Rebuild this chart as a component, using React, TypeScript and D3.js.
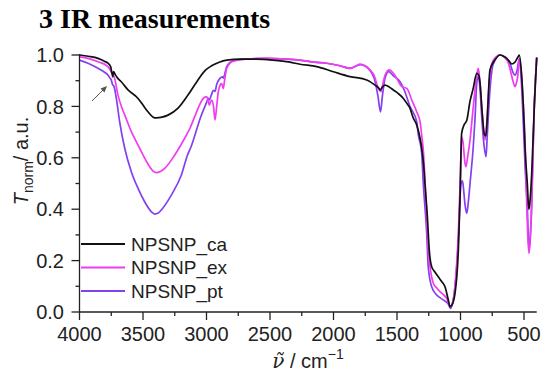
import React, { useEffect, useRef } from "react";
import * as d3 from "d3";

const width = 542,
  height = 376;

// [wavenumber, T_norm]
const caData: [number, number][] = [
  [4000, 1.0], [3930, 0.995], [3854, 0.987], [3800, 0.975], [3776, 0.968], [3755, 0.955],
  [3745, 0.93], [3738, 0.915], [3732, 0.935], [3720, 0.925], [3700, 0.91], [3671, 0.896],
  [3618, 0.864], [3539, 0.831], [3500, 0.805], [3461, 0.779], [3420, 0.758], [3395, 0.755],
  [3350, 0.758], [3303, 0.766], [3224, 0.793], [3146, 0.844], [3067, 0.903], [3010, 0.94],
  [2960, 0.958], [2900, 0.972], [2840, 0.98], [2736, 0.984], [2605, 0.984], [2476, 0.98],
  [2343, 0.972], [2264, 0.964], [2132, 0.955], [2001, 0.935], [1870, 0.916], [1738, 0.903],
  [1673, 0.883], [1645, 0.872], [1632, 0.864], [1615, 0.875], [1594, 0.883], [1560, 0.875],
  [1529, 0.864], [1490, 0.85], [1450, 0.831], [1420, 0.81], [1398, 0.793], [1372, 0.755],
  [1345, 0.728], [1320, 0.68], [1306, 0.64], [1290, 0.57], [1280, 0.5], [1261, 0.371],
  [1246, 0.241], [1227, 0.176], [1200, 0.155], [1175, 0.137], [1150, 0.12], [1122, 0.098],
  [1096, 0.047], [1083, 0.021], [1070, 0.025], [1043, 0.073], [1017, 0.241], [1004, 0.436],
  [991, 0.695], [970, 0.73], [951, 0.745], [925, 0.82], [900, 0.87], [872, 0.929],
  [855, 0.92], [846, 0.89], [830, 0.78], [812, 0.69], [800, 0.685], [790, 0.75],
  [768, 0.942], [728, 0.981], [689, 1.0], [660, 0.995], [636, 0.987], [610, 0.972],
  [597, 0.965], [571, 0.972], [550, 0.99], [537, 1.0], [520, 0.93], [505, 0.8],
  [490, 0.62], [474, 0.5], [462, 0.4], [455, 0.42], [439, 0.54], [419, 0.8], [400, 0.99],
];

const exData: [number, number][] = [
  [4000, 0.993], [3933, 0.987], [3854, 0.974], [3776, 0.955], [3750, 0.935], [3723, 0.909],
  [3697, 0.844], [3670, 0.8], [3644, 0.767], [3592, 0.702], [3550, 0.66], [3513, 0.624],
  [3447, 0.565], [3420, 0.548], [3395, 0.542], [3360, 0.548], [3329, 0.559], [3250, 0.611],
  [3172, 0.676], [3130, 0.715], [3093, 0.76], [3060, 0.8], [3025, 0.831], [3000, 0.838],
  [2990, 0.83], [2978, 0.805], [2970, 0.815], [2959, 0.825], [2945, 0.8], [2933, 0.747],
  [2922, 0.79], [2907, 0.857], [2890, 0.885], [2880, 0.889], [2868, 0.87], [2858, 0.9],
  [2841, 0.948], [2789, 0.977], [2683, 0.984], [2526, 0.987], [2368, 0.984], [2264, 0.98],
  [2150, 0.972], [2054, 0.968], [1949, 0.958], [1870, 0.948], [1820, 0.958], [1791, 0.965],
  [1750, 0.958], [1713, 0.942], [1680, 0.92], [1647, 0.87], [1626, 0.857], [1610, 0.89],
  [1594, 0.922], [1560, 0.942], [1530, 0.93], [1502, 0.909], [1463, 0.877], [1423, 0.87],
  [1384, 0.825], [1345, 0.779], [1318, 0.74], [1306, 0.689], [1293, 0.63], [1272, 0.436],
  [1254, 0.241], [1240, 0.176], [1214, 0.112], [1190, 0.095], [1162, 0.079], [1135, 0.068],
  [1109, 0.053], [1090, 0.03], [1080, 0.021], [1057, 0.047], [1040, 0.12], [1017, 0.306],
  [1000, 0.55], [991, 0.682], [980, 0.66], [965, 0.58], [957, 0.565], [945, 0.6],
  [925, 0.669], [905, 0.77], [886, 0.864], [872, 0.92], [860, 0.948], [850, 0.91],
  [833, 0.8], [820, 0.72], [807, 0.669], [795, 0.72], [780, 0.85], [768, 0.92],
  [742, 0.98], [689, 1.0], [650, 0.99], [620, 0.965], [602, 0.929], [585, 0.895],
  [571, 0.877], [560, 0.89], [550, 0.916], [537, 0.985], [525, 0.95], [505, 0.8],
  [492, 0.67], [480, 0.45], [471, 0.306], [461, 0.228], [450, 0.29], [445, 0.345],
  [430, 0.6], [419, 0.8], [400, 0.99],
];

const ptData: [number, number][] = [
  [4000, 0.98], [3933, 0.968], [3854, 0.948], [3800, 0.932], [3776, 0.922], [3760, 0.91],
  [3750, 0.903], [3740, 0.885], [3728, 0.877], [3710, 0.831], [3684, 0.741], [3644, 0.637],
  [3592, 0.546], [3539, 0.481], [3487, 0.429], [3434, 0.39], [3408, 0.381], [3380, 0.385],
  [3356, 0.397], [3277, 0.455], [3198, 0.533], [3150, 0.61], [3120, 0.645], [3045, 0.76],
  [3000, 0.815], [2986, 0.831], [2978, 0.825], [2965, 0.84], [2945, 0.862], [2933, 0.858],
  [2920, 0.885], [2894, 0.909], [2875, 0.915], [2868, 0.91], [2841, 0.955], [2789, 0.977],
  [2683, 0.984], [2526, 0.987], [2368, 0.984], [2264, 0.98], [2150, 0.972], [2054, 0.968],
  [1949, 0.958], [1870, 0.948], [1791, 0.962], [1713, 0.94], [1680, 0.91], [1650, 0.84],
  [1630, 0.779], [1615, 0.84], [1594, 0.91], [1565, 0.935], [1530, 0.92], [1476, 0.896],
  [1440, 0.86], [1398, 0.8], [1345, 0.741], [1332, 0.69], [1306, 0.62], [1293, 0.5],
  [1266, 0.306], [1254, 0.176], [1227, 0.098], [1187, 0.066], [1135, 0.047], [1096, 0.031],
  [1080, 0.014], [1060, 0.04], [1043, 0.098], [1017, 0.28], [996, 0.5], [985, 0.51],
  [978, 0.488], [965, 0.42], [951, 0.384], [940, 0.42], [925, 0.5], [900, 0.64],
  [886, 0.75], [872, 0.89], [860, 0.916], [845, 0.86], [833, 0.76], [815, 0.65],
  [799, 0.604], [790, 0.68], [768, 0.864], [742, 0.965], [689, 1.0], [650, 0.99],
  [620, 0.975], [602, 0.955], [585, 0.93], [571, 0.922], [555, 0.94], [537, 0.985],
  [525, 0.93], [505, 0.73], [490, 0.55], [474, 0.41], [461, 0.24], [450, 0.3],
  [440, 0.4], [430, 0.6], [419, 0.8], [400, 0.99],
];

const seriesNames = ["NPSNP_ca", "NPSNP_ex", "NPSNP_pt"];
const seriesColors = ["#111111", "#f03cf0", "#8340f0"];
const xTicks = [4000, 3500, 3000, 2500, 2000, 1500, 1000, 500];
const xMinor = [3750, 3250, 2750, 2250, 1750, 1250, 750];
const yTicks = [0, 0.2, 0.4, 0.6, 0.8, 1.0];
const yMinor = [0.1, 0.3, 0.5, 0.7, 0.9];

export default function App() {
  const svgRef = useRef<SVGSVGElement>(null);

  useEffect(() => {
    const svg = d3.select(svgRef.current);
    svg.selectAll("*").remove();

    const x = d3.scaleLinear().domain([4000, 400]).range([79.5, 536.7]);
    const y = d3.scaleLinear().domain([0, 1]).range([312, 55]);
    const font = "'Liberation Sans', Arial, sans-serif";

    // title
    svg
      .append("text")
      .attr("x", 39)
      .attr("y", 28)
      .attr("font-family", "'Liberation Serif', 'Times New Roman', serif")
      .attr("font-weight", "bold")
      .attr("font-size", 28)
      .text("3 IR measurements");

    // spectra
    const line = d3
      .line<[number, number]>()
      .x(d => x(d[0]))
      .y(d => y(d[1]))
      .curve(d3.curveMonotoneX);

    const all = [caData, exData, ptData];
    [2, 1, 0].forEach(i => {
      svg
        .append("path")
        .attr("d", line(all[i]))
        .attr("fill", "none")
        .attr("stroke", seriesColors[i])
        .attr("stroke-width", 1.7)
        .attr("stroke-linejoin", "round");
    });

    // axes
    const ax = svg.append("g").attr("stroke", "#222").attr("stroke-width", 1.3);
    ax.append("line").attr("x1", x(4000)).attr("x2", x(4000)).attr("y1", y(0)).attr("y2", y(1) - 1);
    ax.append("line").attr("x1", x(4000)).attr("x2", x(400)).attr("y1", y(0)).attr("y2", y(0));

    yTicks.forEach(t => {
      ax.append("line").attr("x1", x(4000) - 8).attr("x2", x(4000)).attr("y1", y(t)).attr("y2", y(t));
    });
    yMinor.forEach(t => {
      ax.append("line").attr("x1", x(4000) - 4).attr("x2", x(4000)).attr("y1", y(t)).attr("y2", y(t));
    });
    xTicks.forEach(t => {
      ax.append("line").attr("x1", x(t)).attr("x2", x(t)).attr("y1", y(0)).attr("y2", y(0) + 8);
    });
    xMinor.forEach(t => {
      ax.append("line").attr("x1", x(t)).attr("x2", x(t)).attr("y1", y(0)).attr("y2", y(0) + 4);
    });

    svg
      .append("g")
      .selectAll("text")
      .data(yTicks)
      .enter()
      .append("text")
      .attr("x", 64)
      .attr("y", d => y(d))
      .attr("dy", "0.36em")
      .attr("text-anchor", "end")
      .attr("font-family", font)
      .attr("font-size", 20)
      .attr("fill", "#222")
      .text(d => d.toFixed(1));

    svg
      .append("g")
      .selectAll("text")
      .data(xTicks)
      .enter()
      .append("text")
      .attr("x", d => x(d))
      .attr("y", 341)
      .attr("text-anchor", "middle")
      .attr("font-family", font)
      .attr("font-size", 20)
      .attr("fill", "#222")
      .text(d => d);

    // x title
    const xt = svg
      .append("text")
      .attr("x", 308)
      .attr("y", 368)
      .attr("text-anchor", "middle")
      .attr("font-family", font)
      .attr("font-size", 20)
      .attr("fill", "#222");
    xt.append("tspan").attr("font-family", "'DejaVu Serif', serif").attr("font-style", "italic").text("\u03BD\u0303");
    xt.append("tspan").text(" / cm");
    xt.append("tspan").attr("dy", -9).attr("font-size", 14).text("\u22121");

    // y title
    const yt = svg
      .append("text")
      .attr("transform", "translate(28,161) rotate(-90)")
      .attr("text-anchor", "middle")
      .attr("font-family", font)
      .attr("font-size", 20)
      .attr("fill", "#222");
    yt.append("tspan").attr("font-style", "italic").text("T");
    yt.append("tspan").attr("dy", 5).attr("font-size", 14).text("norm");
    yt.append("tspan").attr("dy", -5).text("/ a.u.");

    // arrow
    svg
      .append("line")
      .attr("x1", 92)
      .attr("y1", 101)
      .attr("x2", 105)
      .attr("y2", 88)
      .attr("stroke", "#555")
      .attr("stroke-width", 1);
    svg
      .append("path")
      .attr("d", "M107,86 L100.5,88.5 L104.5,92.5 Z")
      .attr("fill", "#555");

    // legend
    const leg = svg.append("g");
    seriesNames.forEach((name, i) => {
      const ly = 244 + i * 23.5;
      leg
        .append("line")
        .attr("x1", 81)
        .attr("x2", 125)
        .attr("y1", ly)
        .attr("y2", ly)
        .attr("stroke", seriesColors[i])
        .attr("stroke-width", 1.8);
      leg
        .append("text")
        .attr("x", 131)
        .attr("y", ly)
        .attr("dy", "0.36em")
        .attr("font-family", font)
        .attr("font-size", 19)
        .attr("fill", "#222")
        .text(name);
    });
  }, []);

  return (
    <svg
      ref={svgRef}
      width={width}
      height={height}
      style={{ position: "absolute", left: 0, top: 0, background: "#fff" }}
    ></svg>
  );
}
